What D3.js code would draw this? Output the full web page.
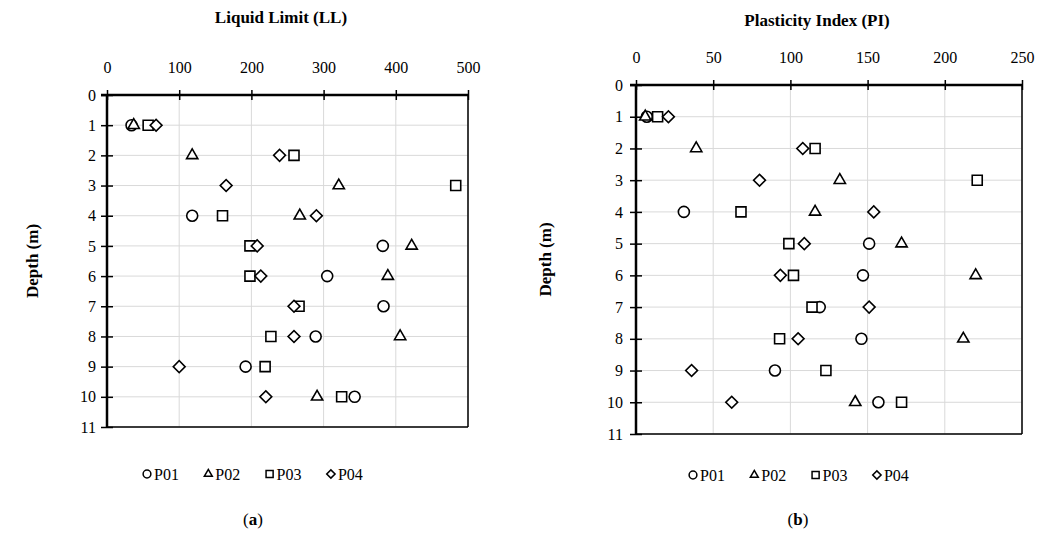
<!DOCTYPE html>
<meta charset="utf-8"/>
<style>
  html, body { margin: 0; padding: 0; background: #fff; }
  text { font-family: "Liberation Serif", "DejaVu Serif", serif; fill: #000; }
  .grid line { stroke: #d9d9d9; stroke-width: 1; }
</style>
<body>
<svg width="1051" height="539"></svg>
</body>
<script src="https://d3js.org/d3.v7.min.js"></script>
<script>

  // depths (m) for every series
  var depths = [1, 2, 3, 4, 5, 6, 7, 8, 9, 10]
  var depthTicks = [0, 1, 2, 3, 4, 5, 6, 7, 8, 9, 10, 11]
  var seriesNames = ["P01", "P02", "P03", "P04"]

  // Liquid Limit (LL)
  var llTicks = [0, 100, 200, 300, 400, 500]
  var llP01 = [34, null, null, 118, 382, 305, 383, 289, 192, 343]
  var llP02 = [37, 118, 321, 267, 422, 389, null, 406, null, 291]
  var llP03 = [57, 259, 483, 160, 198, 198, 266, 227, 219, 325]
  var llP04 = [68, 239, 165, 290, 208, 213, 259, 259, 100, 220]

  // Plasticity Index (PI)
  var piTicks = [0, 50, 100, 150, 200, 250]
  var piP01 = [7, null, null, 31, 151, 147, 119, 146, 90, 157]
  var piP02 = [6, 39, 132, 116, 172, 220, null, 212, null, 142]
  var piP03 = [14, 116, 221, 68, 99, 102, 114, 93, 123, 172]
  var piP04 = [21, 108, 80, 154, 109, 93.5, 151, 105, 36, 62]

  var svg = d3.select("svg")

  // marker shapes, one per series
  function markerPath(i, big) {
    var k = big ? 1 : 0.5
    if (i === 0) return d3.symbol(d3.symbolCircle, 95 * k)()
    if (i === 1) return d3.symbol(d3.symbolTriangle, 55 * k)()
    if (i === 2) return d3.symbol(d3.symbolSquare, 100 * k)()
    return d3.symbol(d3.symbolSquare, 70 * k)()
  }

  function drawPanel(cfg) {
    var g = svg.append("g")
    var x = d3.scaleLinear().domain([0, cfg.xmax]).range([cfg.left, cfg.right])
    var y = d3.scaleLinear().domain([0, 11]).range([cfg.top, cfg.bottom])

    // grid
    var grid = g.append("g").attr("class", "grid")
    grid.selectAll(".gx").data(cfg.xticks).enter().append("line")
      .attr("x1", d => x(d)).attr("x2", d => x(d))
      .attr("y1", cfg.top).attr("y2", cfg.bottom)
    grid.selectAll(".gy").data(depthTicks).enter().append("line")
      .attr("x1", cfg.left).attr("x2", cfg.right)
      .attr("y1", d => y(d)).attr("y2", d => y(d))

    // frame (right + bottom)
    g.append("line").attr("x1", cfg.right).attr("x2", cfg.right)
      .attr("y1", cfg.top).attr("y2", cfg.bottom)
      .attr("stroke", "#000").attr("stroke-width", 1.5)
    g.append("line").attr("x1", cfg.left).attr("x2", cfg.right)
      .attr("y1", cfg.bottom).attr("y2", cfg.bottom)
      .attr("stroke", "#000").attr("stroke-width", 1.5)

    // top axis
    var ax = g.append("g").attr("transform", "translate(0," + cfg.top + ")")
      .call(d3.axisTop(x).tickValues(cfg.xticks).tickSize(0).tickPadding(cfg.xpad))
    ax.select(".domain").remove()
    ax.selectAll("text").style("font-size", cfg.fs + "px")
      .style("font-family", "Liberation Serif")
    ax.selectAll(".tick line").attr("y1", -5).attr("y2", 5)
      .attr("stroke", "#000").attr("stroke-width", 1.5)
    g.append("line").attr("x1", cfg.left - 6).attr("x2", cfg.right)
      .attr("y1", cfg.top).attr("y2", cfg.top)
      .attr("stroke", "#000").attr("stroke-width", 2.5)

    // left axis
    var ay = g.append("g").attr("transform", "translate(" + cfg.left + ",0)")
      .call(d3.axisLeft(y).tickValues(depthTicks).tickSize(0).tickPadding(cfg.ypad))
    ay.select(".domain").remove()
    ay.selectAll("text").style("font-size", cfg.fs + "px")
      .style("font-family", "Liberation Serif")
    ay.selectAll(".tick line").attr("x1", -6).attr("x2", 6)
      .attr("stroke", "#000").attr("stroke-width", 1.5)
    g.append("line").attr("x1", cfg.left).attr("x2", cfg.left)
      .attr("y1", cfg.top).attr("y2", cfg.bottom + 1)
      .attr("stroke", "#000").attr("stroke-width", 2.5)

    // title
    g.append("text").attr("x", cfg.titleX).attr("y", cfg.titleY)
      .attr("text-anchor", "middle").style("font-weight", "bold")
      .style("font-size", "17px").text(cfg.title)

    g.append("text")
      .attr("transform", "translate(" + cfg.ytitleX + "," + ((cfg.top + cfg.bottom) / 2) + ") rotate(-90)")
      .attr("text-anchor", "middle").style("font-weight", "bold")
      .style("font-size", "17px").text("Depth (m)")

    // points
    cfg.series.forEach(function (vals, i) {
      var pts = depths.map((d, j) => ({ depth: d, v: vals[j] })).filter(p => p.v !== null)
      g.append("g").selectAll("path").data(pts).enter().append("path")
        .attr("d", markerPath(i, true))
        .attr("transform", p => "translate(" + x(p.v) + "," + y(p.depth) + ")" + (i === 3 ? " rotate(45)" : ""))
        .attr("fill", "#fff").attr("stroke", "#000").attr("stroke-width", 1.6)
    })

    // legend
    var leg = g.append("g")
    var lx = cfg.legendX
    seriesNames.forEach(function (name, i) {
      leg.append("path").attr("d", markerPath(i, false))
        .attr("transform", "translate(" + (lx + i * 61.3) + "," + cfg.legendY + ")" + (i === 3 ? " rotate(45)" : ""))
        .attr("fill", "#fff").attr("stroke", "#000").attr("stroke-width", 1.5)
      leg.append("text").attr("x", lx + i * 61.3 + 7).attr("y", cfg.legendY + 6)
        .style("font-size", "16px").text(name)
    })

    g.append("text").attr("x", cfg.capX).attr("y", cfg.capY)
      .attr("text-anchor", "middle").style("font-size", "17px")
      .html(cfg.caption)
  }

  drawPanel({
    title: "Liquid Limit (LL)", xmax: 500, xticks: llTicks,
    series: [llP01, llP02, llP03, llP04],
    left: 107, right: 468, top: 95, bottom: 427,
    titleX: 281, titleY: 23, xpad: 22, ypad: 11, fs: 16, ytitleX: 38,
    legendX: 147, legendY: 474, capX: 253, capY: 525,
    caption: "(<tspan font-weight='bold'>a</tspan>)"
  })

  drawPanel({
    title: "Plasticity Index (PI)", xmax: 250, xticks: piTicks,
    series: [piP01, piP02, piP03, piP04],
    left: 636, right: 1022, top: 85, bottom: 434,
    titleX: 817, titleY: 26, xpad: 22, ypad: 13, fs: 16, ytitleX: 551,
    legendX: 693, legendY: 475, capX: 798, capY: 525,
    caption: "(<tspan font-weight='bold'>b</tspan>)"
  })

</script>
